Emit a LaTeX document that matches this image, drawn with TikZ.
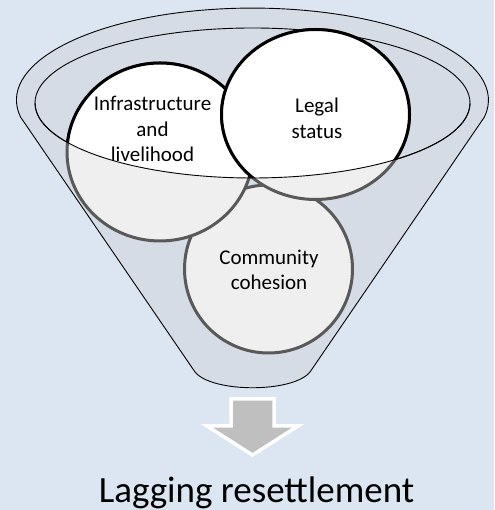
\documentclass[tikz,border=0pt]{standalone}
\usepackage{fontspec}
\setmainfont{Carlito}
\definecolor{bgblue}{HTML}{DCE6F2}
\definecolor{funnelfill}{HTML}{D5DCE5}
\definecolor{lowgray}{HTML}{EFEFEF}
\definecolor{edgegray}{HTML}{595959}
\definecolor{arrowgray}{HTML}{BFBFBF}
\tikzset{
  funnelline/.style={draw=black, line width=0.9pt},
  lowdisc/.style={fill=lowgray, draw=edgegray, line width=3pt},
  topdisc/.style={fill=white, draw=black, line width=3pt},
  disclabel/.style={align=center, font=\fontsize{21}{25.5}\selectfont, text=black, inner sep=0pt},
  bigarrow/.style={fill=arrowgray, draw=white, line width=3.5pt, line join=miter},
}
\begin{document}
\begin{tikzpicture}[x=1pt,y=1pt]
\useasboundingbox (0,0) rectangle (494,510);
\fill[bgblue] (0,0) rectangle (494,510);
% funnel body
\path[fill=funnelfill, funnelline] (20.5,393) arc[start angle=190.6, end angle=-10.6, x radius=236, y radius=92]
  -- (310,138) .. controls (293,117) and (212,117) .. (195,138) -- cycle;
% inner rim
\coordinate (rim) at (252.5,407);
\path[fill=funnelfill, funnelline] (rim) ellipse[x radius=217.5, y radius=75];
% community (lowest disc)
\coordinate (ccom) at (268.5,241);
\path[lowdisc] (ccom) circle[radius=84];
% infrastructure disc
\coordinate (cinf) at (160,358);
\path[lowdisc] (cinf) ellipse[x radius=93, y radius=89];
\begin{scope}
  \clip (-10,407) -- (35,407) arc[start angle=180, end angle=360, x radius=217.5, y radius=75] -- (520,407) -- (520,520) -- (-10,520) -- cycle;
  \path[topdisc] (cinf) ellipse[x radius=93, y radius=89];
\end{scope}
% legal disc
\coordinate (cleg) at (315.5,395.5);
\path[lowdisc] (cleg) ellipse[x radius=94, y radius=85];
\begin{scope}
  \clip (-10,407) -- (35,407) arc[start angle=180, end angle=360, x radius=217.5, y radius=75] -- (520,407) -- (520,520) -- (-10,520) -- cycle;
  \path[topdisc] (cleg) ellipse[x radius=94, y radius=85];
\end{scope}
% front half of the rim
\draw[funnelline] (35,407) arc[start angle=180, end angle=360, x radius=217.5, y radius=75];
% labels
\node[disclabel] (tinf) at (152.5,381) {Infrastructure\\and\\livelihood};
\node[disclabel] (tleg) at (317,391.5) {Legal\\status};
\node[disclabel] (tcom) at (269,240) {Community\\cohesion};
% arrow
\path[bigarrow] (231,111) -- (274,111) -- (274,84) -- (298,84) -- (252.5,55) -- (207,84) -- (231,84) -- cycle;
\node[anchor=base, font=\fontsize{37}{40}\selectfont, inner sep=0pt] (result) at (256.5,8) {Lagging resettlement};
\end{tikzpicture}
\end{document}
